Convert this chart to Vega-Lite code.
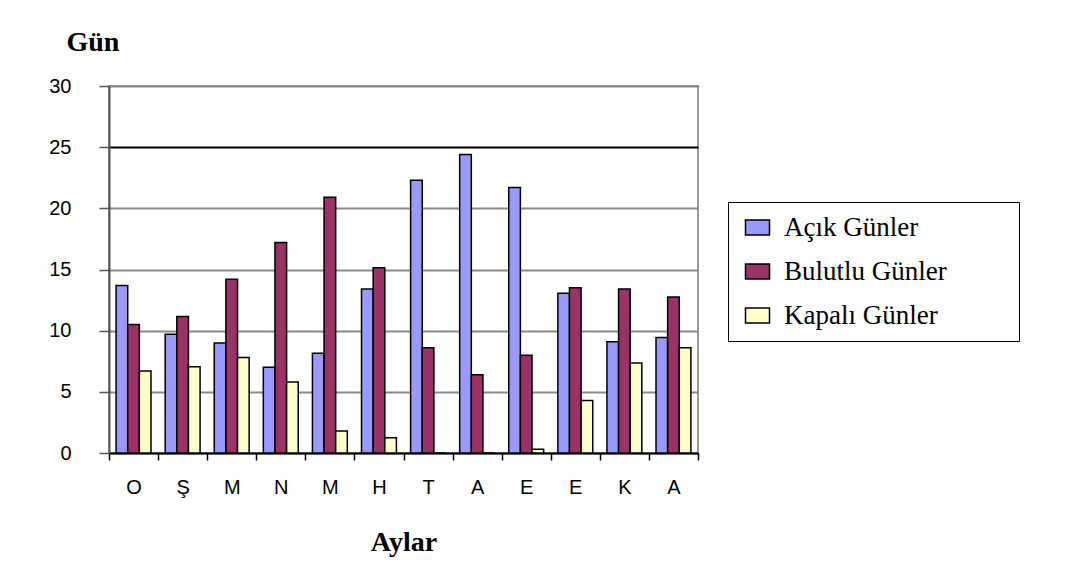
{
  "$schema": "https://vega.github.io/schema/vega-lite/v6.json",
  "autosize": "none",
  "width": 589,
  "height": 367,
  "padding": {"left": 109, "top": 86, "right": 372, "bottom": 119},
  "background": "white",
  "data": {
    "values": [
      {"ay": "Ocak", "tur": "Açık Günler", "gun": 13.7},
      {"ay": "Ocak", "tur": "Bulutlu Günler", "gun": 10.5},
      {"ay": "Ocak", "tur": "Kapalı Günler", "gun": 6.7},
      {"ay": "Şubat", "tur": "Açık Günler", "gun": 9.7},
      {"ay": "Şubat", "tur": "Bulutlu Günler", "gun": 11.15},
      {"ay": "Şubat", "tur": "Kapalı Günler", "gun": 7.05},
      {"ay": "Mart", "tur": "Açık Günler", "gun": 9.0},
      {"ay": "Mart", "tur": "Bulutlu Günler", "gun": 14.2},
      {"ay": "Mart", "tur": "Kapalı Günler", "gun": 7.8},
      {"ay": "Nisan", "tur": "Açık Günler", "gun": 7.0},
      {"ay": "Nisan", "tur": "Bulutlu Günler", "gun": 17.2},
      {"ay": "Nisan", "tur": "Kapalı Günler", "gun": 5.8},
      {"ay": "Mayıs", "tur": "Açık Günler", "gun": 8.15},
      {"ay": "Mayıs", "tur": "Bulutlu Günler", "gun": 20.9},
      {"ay": "Mayıs", "tur": "Kapalı Günler", "gun": 1.8},
      {"ay": "Haziran", "tur": "Açık Günler", "gun": 13.4},
      {"ay": "Haziran", "tur": "Bulutlu Günler", "gun": 15.15},
      {"ay": "Haziran", "tur": "Kapalı Günler", "gun": 1.25},
      {"ay": "Temmuz", "tur": "Açık Günler", "gun": 22.3},
      {"ay": "Temmuz", "tur": "Bulutlu Günler", "gun": 8.6},
      {"ay": "Temmuz", "tur": "Kapalı Günler", "gun": 0},
      {"ay": "Ağustos", "tur": "Açık Günler", "gun": 24.4},
      {"ay": "Ağustos", "tur": "Bulutlu Günler", "gun": 6.4},
      {"ay": "Ağustos", "tur": "Kapalı Günler", "gun": 0},
      {"ay": "Eylül", "tur": "Açık Günler", "gun": 21.7},
      {"ay": "Eylül", "tur": "Bulutlu Günler", "gun": 8.0},
      {"ay": "Eylül", "tur": "Kapalı Günler", "gun": 0.3},
      {"ay": "Ekim", "tur": "Açık Günler", "gun": 13.05},
      {"ay": "Ekim", "tur": "Bulutlu Günler", "gun": 13.5},
      {"ay": "Ekim", "tur": "Kapalı Günler", "gun": 4.3},
      {"ay": "Kasım", "tur": "Açık Günler", "gun": 9.1},
      {"ay": "Kasım", "tur": "Bulutlu Günler", "gun": 13.4},
      {"ay": "Kasım", "tur": "Kapalı Günler", "gun": 7.35},
      {"ay": "Aralık", "tur": "Açık Günler", "gun": 9.45},
      {"ay": "Aralık", "tur": "Bulutlu Günler", "gun": 12.75},
      {"ay": "Aralık", "tur": "Kapalı Günler", "gun": 8.6}
    ]
  },
  "mark": {"type": "bar", "stroke": "black", "strokeWidth": 1.5},
  "encoding": {
    "x": {
      "field": "ay",
      "type": "nominal",
      "sort": null,
      "scale": {"paddingInner": 0, "paddingOuter": 0},
      "axis": {
        "title": "Aylar",
        "labelAngle": 0,
        "labelExpr": "substring(datum.label, 0, 1)",
        "tickBand": "extent",
        "tickSize": 7,
        "tickColor": "black",
        "tickWidth": 1.5,
        "domainColor": "black",
        "domainWidth": 2,
        "labelPadding": 17,
        "labelFont": "Liberation Sans",
        "labelFontSize": 20,
        "labelColor": "black",
        "titleFont": "Liberation Serif",
        "titleFontSize": 28,
        "titleFontWeight": "bold",
        "titleColor": "black",
        "titleY": 97,
        "titleBaseline": "alphabetic"
      }
    },
    "xOffset": {
      "field": "tur",
      "type": "nominal",
      "scale": {"paddingInner": 0, "paddingOuter": 0.61}
    },
    "y": {
      "field": "gun",
      "type": "quantitative",
      "scale": {"domain": [0, 30], "nice": false},
      "axis": {
        "title": "Gün",
        "values": [0, 5, 10, 15, 20, 25, 30],
        "grid": true,
        "gridColor": {"condition": {"test": "datum.value == 25", "value": "black"}, "value": "#8a8a8a"},
        "gridWidth": 2,
        "tickSize": 10,
        "tickColor": "#555555",
        "tickWidth": 1.5,
        "domainColor": "#555555",
        "domainWidth": 2,
        "labelPadding": 28,
        "labelFont": "Liberation Sans",
        "labelFontSize": 20,
        "labelColor": "black",
        "titleAngle": 0,
        "titleX": -43,
        "titleY": -36,
        "titleAlign": "left",
        "titleBaseline": "alphabetic",
        "titleFont": "Liberation Serif",
        "titleFontSize": 28,
        "titleFontWeight": "bold",
        "titleColor": "black"
      }
    },
    "color": {
      "field": "tur",
      "type": "nominal",
      "scale": {
        "domain": ["Açık Günler", "Bulutlu Günler", "Kapalı Günler"],
        "range": ["#9999FF", "#993366", "#FFFFCC"]
      },
      "legend": {
        "title": null,
        "orient": "none",
        "legendX": 619,
        "legendY": 116,
        "strokeColor": "black",
        "padding": 12,
        "rowPadding": 16,
        "symbolType": "M-1,-0.625H1V0.625H-1Z",
        "symbolSize": 576,
        "symbolOffset": 4,
        "symbolStrokeColor": "black",
        "symbolStrokeWidth": 1.5,
        "symbolOpacity": 1,
        "labelOffset": 13,
        "labelFont": "Liberation Serif",
        "labelFontSize": 27,
        "labelColor": "black",
        "labelLimit": 600,
        "labelExpr": "datum.label + '\u2800\u2800\u2800'"
      }
    }
  },
  "config": {"view": {"stroke": "#999999", "strokeWidth": 2}}
}
